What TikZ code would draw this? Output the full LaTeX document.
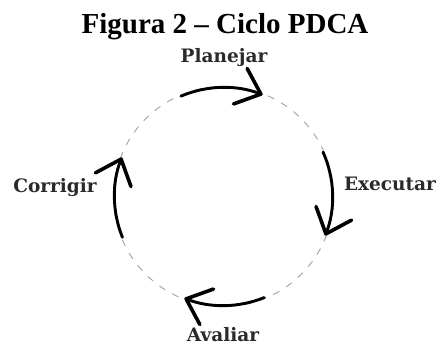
\documentclass[tikz,border=0pt]{standalone}
\usepackage{fontspec}
\setmainfont{Liberation Serif}
\newfontfamily\labelfont{DejaVu Serif}
\usetikzlibrary{arrows.meta}
\definecolor{labelgray}{HTML}{2A2A2A}
\definecolor{dashgray}{HTML}{A0A0A0}
\tikzset{
  title/.style={font=\bfseries\fontsize{29}{34}\selectfont},
  phase/.style={font=\labelfont\bfseries\fontsize{18.5}{22}\selectfont, text=labelgray, inner sep=0pt},
  cyclearrow/.style={line width=2.9pt, line cap=round, -{Straight Barb[length=22pt,width=38pt,line width=3.6pt,round]}},
  guide/.style={draw=dashgray, line width=0.9pt, dash pattern=on 7pt off 8pt}
}
\begin{document}
\begin{tikzpicture}[x=1pt,y=1pt]
  \useasboundingbox (0,0) rectangle (442,347);
  \coordinate (c) at (223.5,150.5);
  \node[title] (t) at (225,320) {Figura 2 -- Ciclo PDCA};
  \draw[guide] (c) circle[radius=110];
  \node[phase] (p) at (224,289) {Planejar};
  \node[phase] (e) at (390,163) {Executar};
  \node[phase] (a) at (223,12) {Avaliar};
  \node[phase] (k) at (55,159) {Corrigir};
  \draw[cyclearrow] (c) ++(113:109) arc[start angle=113, end angle=69, radius=109];
  \draw[cyclearrow] (c) ++(24:109) arc[start angle=24, end angle=-21, radius=109];
  \draw[cyclearrow] (c) ++(-68:109) arc[start angle=-68, end angle=-111, radius=109];
  \draw[cyclearrow] (c) ++(202:109) arc[start angle=202, end angle=159, radius=109];
\end{tikzpicture}
\end{document}
